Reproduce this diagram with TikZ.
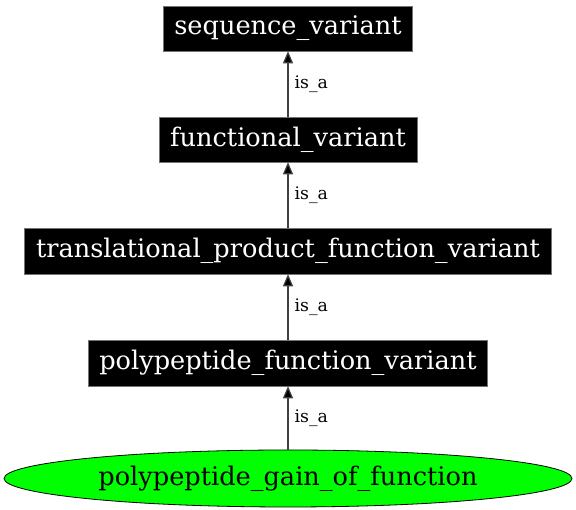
\documentclass[tikz,border=0pt]{standalone}
\usepackage{fontspec}
\setmainfont{DejaVu Serif}
\usetikzlibrary{arrows.meta,shapes.geometric}
\begin{document}
\begin{tikzpicture}[x=1pt,y=1pt,
  termbox/.style={draw=black!55,line width=0.6pt,fill=black,text=white,inner sep=0pt,
    minimum height=45pt,font=\fontsize{25.6}{27}\selectfont},
  leafnode/.style={ellipse,draw=black,line width=0.8pt,fill=green,inner sep=0pt,
    minimum width=568pt,minimum height=57pt,font=\fontsize{25.6}{27}\selectfont},
  isa/.style={draw=black!75,line width=1.2pt,-{Triangle[length=12pt,width=10pt,fill=black]}},
  isalabel/.style={anchor=west,inner sep=0pt,font=\fontsize{17.3}{19}\selectfont}]
\useasboundingbox (0,0) rectangle (576,510);
\node[termbox,minimum width=249pt] (sv) at (288,481.5) {sequence\_variant};
\node[termbox,minimum width=258pt] (fv) at (288,370.5) {functional\_variant};
\node[termbox,minimum width=527pt,minimum height=46pt] (tp) at (288,259) {translational\_product\_function\_variant};
\node[termbox,minimum width=399pt,minimum height=46pt] (pf) at (288,147) {polypeptide\_function\_variant};
\node[leafnode] (pg) at (288,31.5) {polypeptide\_gain\_of\_function};
\draw[isa] (fv) -- node[isalabel,xshift=6pt,yshift=0pt]{is\_a} (sv);
\draw[isa] (tp) -- node[isalabel,xshift=6pt,yshift=0pt]{is\_a} (fv);
\draw[isa] (pf) -- node[isalabel,xshift=6pt,yshift=0pt]{is\_a} (tp);
\draw[isa] (pg) -- node[isalabel,xshift=6pt,yshift=0pt]{is\_a} (pf);
\end{tikzpicture}
\end{document}
